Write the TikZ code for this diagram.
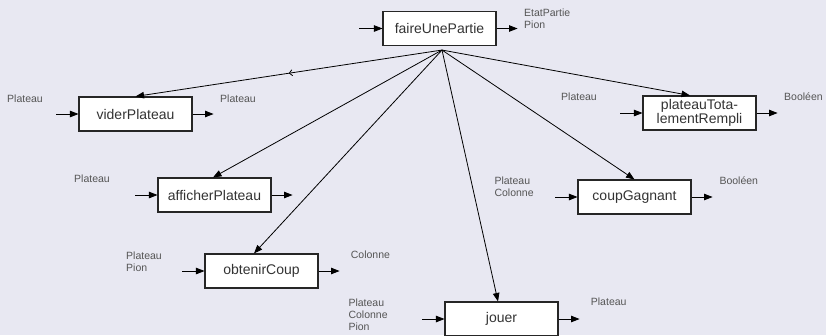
\documentclass[tikz,border=0pt]{standalone}
\usepackage{fontspec}
\setmainfont{Liberation Sans}
\usetikzlibrary{arrows.meta,decorations.markings}
\definecolor{fond}{RGB}{232,232,242}
\definecolor{gristexte}{RGB}{85,85,85}
\begin{document}
\begin{tikzpicture}[x=1pt,y=-1pt,
    fonction/.style={draw=black!85,line width=1.1pt,fill=white,minimum width=113pt,
        minimum height=34pt,inner sep=0pt,align=center,text=black!80,
        font=\fontsize{14}{14}\selectfont},
    donnee/.style={anchor=base west,inner sep=0pt,align=left,text=gristexte,
        font=\fontsize{10.5}{12}\selectfont},
    appel/.style={line width=0.8pt,-{Triangle[length=8.5pt,width=6.5pt]}},
    flux/.style={line width=0.8pt,-{Triangle[length=8.5pt,width=6.5pt]}},
    milieu/.style={postaction={decorate},
        decoration={markings,mark=at position 0.5 with {\arrow{Straight Barb[length=3pt,width=6pt]}}}}]
    \useasboundingbox[fill=fond] (0,0) rectangle (826,335);
    %% main function
    \node[fonction] (faire) at (439.5,28.5) {faireUnePartie};
    \coordinate (hub) at ([shift={(2.5,4)}]faire.south);
    \draw[flux] ([xshift=-23pt]faire.west) -- (faire.west);
    \draw[flux] (faire.east) -- ([xshift=21pt]faire.east);
    \node[donnee] at (524,28.5) {EtatPartie\\Pion};
    %% called functions
    \node[fonction] (vider) at (135.5,114) {viderPlateau};
    \node[fonction] (plein) at (699.5,113) {plateauTota-\\lementRempli};
    \node[fonction] (afficher) at (214.5,195) {afficherPlateau};
    \node[fonction] (gagnant) at (634.5,197) {coupGagnant};
    \node[fonction] (obtenir) at (261.5,271) {obtenirCoup};
    \node[fonction] (jouer) at (501.5,319) {jouer};
    %% calls
    \draw[appel,milieu] (hub) -- (vider.north);
    \draw[appel] (hub) -- ([xshift=-9.5pt]plein.north);
    \draw[appel] (hub) -- ([xshift=-1.5pt]afficher.north);
    \draw[appel] (hub) -- (gagnant.north);
    \draw[appel] (hub) -- ([xshift=-7.5pt]obtenir.north);
    \draw[appel] (hub) -- ([xshift=-3.5pt]jouer.north);
    %% inputs and outputs
    \foreach \f in {vider,plein,afficher,gagnant,obtenir,jouer} {
        \draw[flux] ([xshift=-22pt]\f.west) -- (\f.west);
        \draw[flux] (\f.east) -- ([xshift=21pt]\f.east);
    }
    \node[donnee] at (7,102) {Plateau};
    \node[donnee] at (220,102) {Plateau};
    \node[donnee] at (561,100.7) {Plateau};
    \node[donnee] at (784,100.7) {Booléen};
    \node[donnee] at (74,182.7) {Plateau};
    \node[donnee] at (494.3,196.3) {Plateau\\Colonne};
    \node[donnee] at (719.3,184.3) {Booléen};
    \node[donnee] at (126,271.7) {Plateau\\Pion};
    \node[donnee] at (350.7,258.3) {Colonne};
    \node[donnee] at (348.3,330) {Plateau\\Colonne\\Pion};
    \node[donnee] at (590.7,305.7) {Plateau};
\end{tikzpicture}
\end{document}
